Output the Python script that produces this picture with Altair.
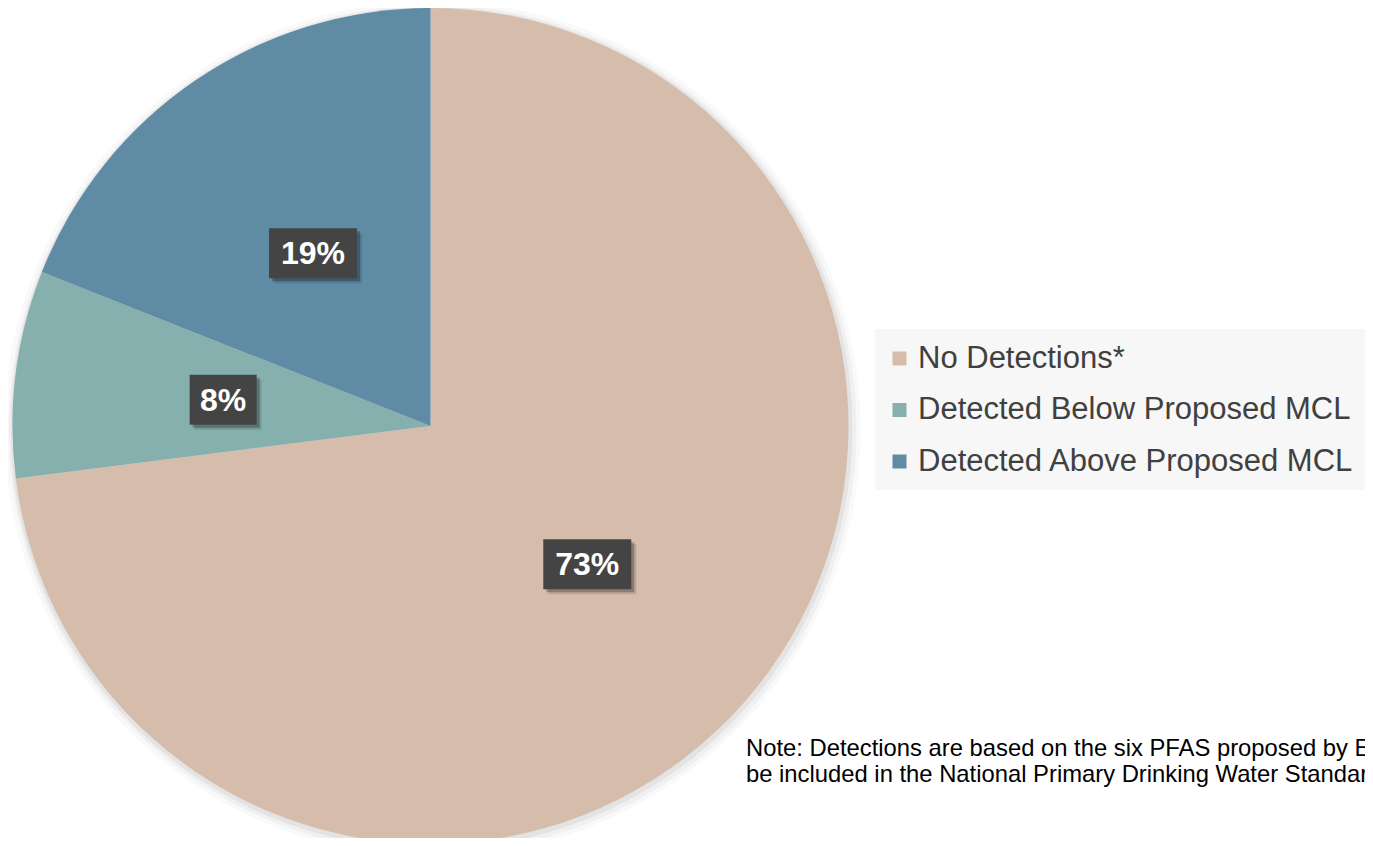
import altair as alt
import pandas as pd

categories = ["No Detections*", "Detected Below Proposed MCL", "Detected Above Proposed MCL"]
values = [73, 8, 19]
labels = ["73%", "8%", "19%"]
colors = ["#d5bcab", "#86b0ae", "#5f8ba4"]
note_lines = [
    "Note: Detections are based on the six PFAS proposed by EPA to",
    "be included in the National Primary Drinking Water Standards.",
]

df = pd.DataFrame({
    "category": categories,
    "value": values,
    "label": labels,
    "idx": list(range(len(categories))),
})
note_df = pd.DataFrame({"note": ["\n".join(note_lines)]})
one_df = pd.DataFrame({"k": [0]})

CX, CY, R = 422.5, 418, 418
LR = 209
FONT = "Liberation Sans"

# soft shadow / halo around the pie
halo = alt.layer(*[
    alt.Chart(one_df).mark_arc(theta=0, theta2=6.2832, outerRadius=r, color="#000000", opacity=op).encode(
        x=alt.value(CX + dx), y=alt.value(CY + dy)
    )
    for r, op, dx, dy in [(428, 0.025, 2, 3), (424, 0.035, 2, 3), (421, 0.05, 1, 2)]
])

# legend panel background with faint shadow
legend_bg = alt.layer(
    alt.Chart(one_df).mark_rect(color="#000000", opacity=0.03).encode(
        x=alt.value(867), x2=alt.value(1400), y=alt.value(321), y2=alt.value(482)
    ),
    alt.Chart(one_df).mark_rect(color="#f7f7f7").encode(
        x=alt.value(870), x2=alt.value(1400), y=alt.value(322), y2=alt.value(479)
    ),
)

pie = alt.Chart(df).mark_arc(outerRadius=R, stroke=None).encode(
    theta=alt.Theta("value:Q", stack=True),
    color=alt.Color(
        "category:N",
        scale=alt.Scale(domain=categories, range=colors),
        legend=alt.Legend(
            title=None, orient="none", legendX=863, legendY=322,
            padding=13,
            labelFontSize=31, labelFont=FONT, labelColor="#404040",
            symbolType="square", symbolSize=196, symbolStrokeWidth=0,
            rowPadding=19.5, labelOffset=3, labelLimit=1000,
        ),
    ),
    order=alt.Order("idx:Q"),
    x=alt.value(CX),
    y=alt.value(CY),
)

pos = alt.Chart(df).transform_joinaggregate(
    total="sum(value)"
).transform_window(
    cum="sum(value)", sort=[alt.SortField("idx", order="ascending")], frame=[None, 0]
).transform_calculate(
    ang="2*PI*(datum.cum - datum.value/2)/datum.total"
).transform_calculate(
    px=f"{CX} + {LR}*sin(datum.ang)",
    py=f"{CY} - {LR}*cos(datum.ang)",
    bw="25 + 21*length(datum.label)",
).transform_calculate(
    x1="datum.px - datum.bw/2",
    x2="datum.px + datum.bw/2",
    y1="datum.py - 25",
    y2="datum.py + 25",
)

shadow_layers = []
for off, op in [(5, 0.12), (3, 0.25)]:
    shadow_layers.append(
        pos.transform_calculate(
            sx1=f"datum.x1 + {off}", sx2=f"datum.x2 + {off}",
            sy1=f"datum.y1 + {off}", sy2=f"datum.y2 + {off}",
        ).mark_rect(color="#000000", opacity=op).encode(
            x=alt.X("sx1:Q", scale=None), x2="sx2:Q",
            y=alt.Y("sy1:Q", scale=None), y2="sy2:Q",
        )
    )

boxes = pos.mark_rect(color="#444444").encode(
    x=alt.X("x1:Q", scale=None), x2="x2:Q",
    y=alt.Y("y1:Q", scale=None), y2="y2:Q",
)

texts = pos.mark_text(
    font=FONT, fontWeight="bold", fontSize=32, color="#ffffff",
    align="center", baseline="middle", dy=1,
).encode(
    x=alt.X("px:Q", scale=None),
    y=alt.Y("py:Q", scale=None),
    text="label:N",
)

note = alt.Chart(note_df).mark_text(
    font=FONT, fontSize=23.8, lineHeight=26, color="#000000",
    align="left", baseline="alphabetic", lineBreak="\n",
).encode(
    x=alt.value(738), y=alt.value(748), text="note:N"
)

chart = alt.layer(
    halo, legend_bg, pie, *shadow_layers, boxes, texts, note
).properties(
    width=1357, height=830, padding=0,
    autosize=alt.AutoSizeParams(type="none"),
    background="#ffffff",
).configure_view(strokeWidth=0)

chart.save("out.html", embed_options={"renderer": "svg", "actions": False})
